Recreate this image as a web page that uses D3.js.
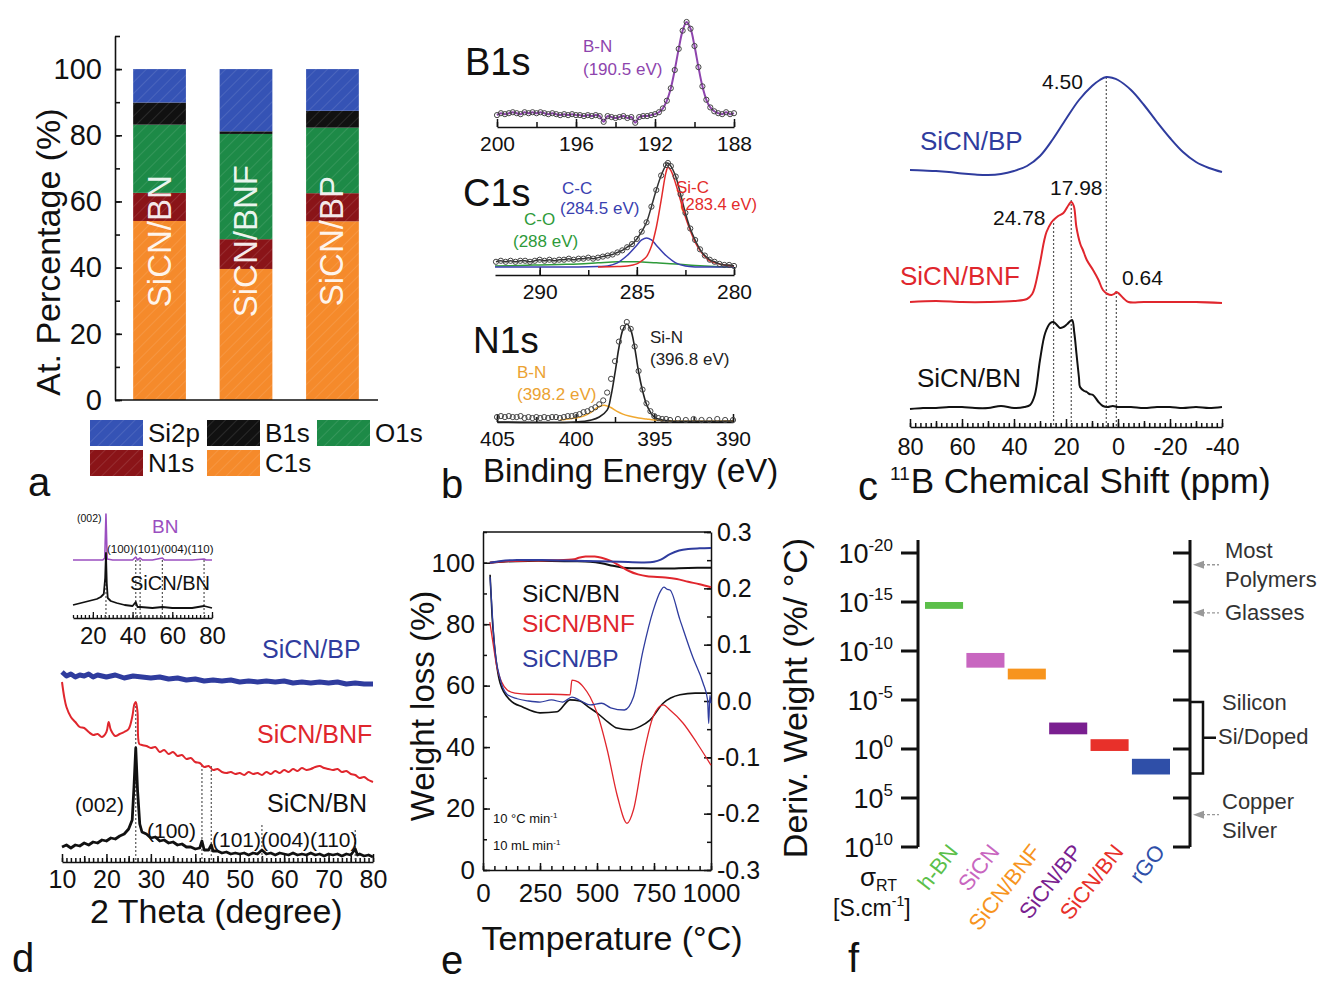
<!DOCTYPE html>
<html>
<head>
<meta charset="utf-8">
<script src="https://cdn.jsdelivr.net/npm/d3@7"></script>
<style>
  body { margin: 0; background: #fff; }
  svg { display: block; }
</style>
</head>
<body>
<svg id="fig" width="1324" height="983"></svg>
<script>
// ---------- data ----------
// (a) XPS atomic percentages, stacked bottom -> top
const xpsSamples = ['SiCN/BN', 'SiCN/BNF', 'SiCN/BP'];
const xpsElements = ['C1s', 'N1s', 'O1s', 'B1s', 'Si2p'];
const atC1s = [54.1, 39.6, 54.0];
const atN1s = [8.5, 9.0, 8.5];
const atO1s = [20.6, 31.8, 19.8];
const atB1s = [6.7, 0.8, 5.1];
const atSi2p = [10.1, 18.8, 12.6];
const legendOrder = ['Si2p', 'B1s', 'O1s', 'N1s', 'C1s'];

// (b) XPS high resolution spectra [eV, intensity]
const b1sData = [[200,3],[199.8,5],[199.6,4],[199.4,5],[199.2,6],[199,5],[198.8,4],[198.6,6],[198.4,5],[198.2,6],[198,5],[197.8,6],[197.6,5],[197.4,4],[197.2,5],[197,4],[196.8,3],[196.6,4],[196.4,3],[196.2,4],[196,3],[195.8,3],[195.6,2],[195.4,3],[195.2,2],[195,3],[194.8,2],[194.6,-4],[194.4,2],[194.2,1],[194,0],[193.8,1],[193.6,2],[193.4,0],[193.2,1],[193,-5],[192.8,1],[192.6,2],[192.4,2],[192.2,3],[192,4],[191.8,6],[191.6,10],[191.4,18],[191.2,31],[191,50],[190.8,72],[190.6,91],[190.4,100],[190.2,93],[190,75],[189.8,53],[189.6,33],[189.4,19],[189.2,11],[189,7],[188.8,5],[188.6,4],[188.4,6],[188.2,4],[188,5]];
const c1sData = [[292.25,5],[292,6],[291.75,5],[291.5,6],[291.25,5],[291,6],[290.75,6],[290.5,5],[290.25,6],[290,7],[289.75,6],[289.5,7],[289.25,6],[289,7],[288.75,7],[288.5,8],[288.25,7],[288,8],[287.75,8],[287.5,9],[287.25,8],[287,9],[286.75,10],[286.5,11],[286.25,12],[286,14],[285.75,16],[285.5,19],[285.25,22],[285,27],[284.75,34],[284.5,43],[284.25,58],[284,74],[283.75,88],[283.5,98],[283.4,100],[283.25,97],[283,87],[282.75,70],[282.5,52],[282.25,37],[282,26],[281.75,17],[281.5,11],[281.25,7],[281,5],[280.75,3],[280.5,2],[280.25,2],[280,1]];
const c1sSiC = [[287,0],[286,0.5],[285.5,1],[285,3],[284.75,6],[284.5,10],[284.25,20],[284,38],[283.75,64],[283.5,91],[283.4,96],[283.25,93],[283,80],[282.75,64],[282.5,48],[282.25,35],[282,24],[281.75,16],[281.5,10],[281.25,6],[281,4],[280.5,2],[280,1]];
const c1sCC = [[292.3,0],[290,0],[288,0],[287,0.5],[286.5,1],[286,4],[285.5,11],[285,21],[284.75,26],[284.5,28],[284.25,26],[284,21],[283.5,11],[283,4],[282.5,1],[282,0],[281,0],[280,0]];
const c1sCO = [[292.3,1],[291,1.5],[290,2],[289,2.5],[288,3],[287,4],[286,5],[285,5],[284,4],[283,3],[282,1.5],[281,0.5],[280,0]];
const n1sData = [[405,3],[404.75,4],[404.5,3],[404.25,4],[404,3],[403.75,3],[403.5,4],[403.25,2],[403,3],[402.75,2],[402.5,3],[402.25,2],[402,3],[401.75,2],[401.5,3],[401.25,3],[401,2],[400.75,3],[400.5,4],[400.25,4],[400,5],[399.75,6],[399.5,8],[399.25,9],[399,11],[398.75,13],[398.5,16],[398.25,20],[398,28],[397.75,42],[397.5,60],[397.25,80],[397,94],[396.75,100],[396.5,93],[396.25,75],[396,50],[395.75,31],[395.5,17],[395.25,9],[395,4],[394.75,2],[394.5,1],[394.25,1],[394,0],[393.5,1],[393,0],[392.5,1],[392,0],[391.5,0],[391,1],[390.5,0],[390,0]];
const n1sSiN = [[405,-2],[400,-2],[399,0],[398.5,3],[398,10],[397.75,25],[397.5,48],[397.25,74],[397,92],[396.75,98],[396.5,92],[396.25,74],[396,49],[395.75,30],[395.5,16],[395.25,8],[395,3],[394.5,0],[394,-1],[390,-1]];
const n1sBN = [[401,0],[400.5,1],[400,2],[399.5,4],[399,8],[398.6,13],[398.2,15],[397.8,13],[397.4,9],[397,6],[396.6,4],[396,2],[395.5,1],[395,0],[394,-1],[390,-1]];

// (c) 11B NMR [ppm, intensity above own baseline]
const nmrOffsets = [0, 106, 236];           // SiCN/BN, SiCN/BNF, SiCN/BP
const nmrBN = [[80,-1],[75,0],[70,0],[65,1],[60,1],[55,0],[50,0],[45,2],[40,0],[36,1],[33.8,3],[32,13],[30,48],[28,75],[26,85],[24.8,86],[23.5,83],[22.3,80],[21,81],[19.5,84],[17.7,88],[16.8,75],[16,55],[15,30],[14.6,21],[13,17],[12,16],[11,14],[9.6,13],[7.5,6],[5.8,2],[4,1],[2,2],[0,1],[-5,1],[-10,0],[-15,1],[-20,1],[-25,0],[-30,1],[-35,0],[-40,1]];
const nmrBNF = [[80,0],[70,1],[60,0],[50,0],[40,1],[35,3],[33,8],[32,15],[30,39],[28.5,60],[27.5,70],[25.5,80],[24.8,82],[23,86],[21,89],[19,97],[18,100],[17,96],[16,75],[14.5,58],[13.5,52],[12,42],[9.6,32],[7.5,22],[5.8,12],[4,8],[2.5,7],[1.5,8],[0.6,10],[-0.5,8],[-2,4],[-4,0],[-10,0],[-20,0],[-30,0],[-40,-1]];
const nmrBP = [[80,2],[75,1.5],[70,1],[65,0],[60,-1.5],[55,-2.5],[50,-3],[45,-2],[40,1],[35,6],[30,16],[25,33],[20,53],[15,72],[10,86],[7,92],[4.5,95],[2,94],[0,92],[-5,82],[-10,67],[-15,50],[-20,34],[-25,20],[-30,10],[-35,4],[-40,0]];
const nmrPeaks = [4.50, 17.98, 24.78, 0.64];

// (d) XRD [2theta, counts (stacked)]
const xrdBN = [[10,15],[11,17],[12,14],[13,17],[14,16],[15,19],[16,17],[17,20],[18,19],[19,22],[20,21],[21,24],[22,23],[23,26],[24,28],[25,33],[25.8,42],[26.2,75],[26.6,114],[27,72],[27.5,38],[28,30],[29,28],[30,24],[31,25],[32,21],[33,22],[34,19],[35,20],[36,17],[37,18],[38,15],[39,15],[40,13],[41,14],[41.5,21],[42,12],[43,12],[43.6,17],[44,11],[45,11],[46,9],[47,10],[48,8],[49,9],[50,8],[51,9],[52,7],[53,9],[54,8],[55,12],[56,8],[57,9],[58,7],[59,9],[60,8],[61,7],[62,9],[63,7],[64,8],[65,7],[66,9],[67,7],[68,8],[69,6],[70,8],[71,7],[72,8],[73,6],[74,8],[75,7],[76,13],[76.5,7],[77,8],[78,6],[79,7],[80,5]];
const xrdBNF = [[10,180],[10.5,165],[11,155],[12,145],[13,140],[14,135],[15,134],[16,130],[17,127],[18,128],[19,125],[20,130],[20.5,140],[21,132],[22,126],[23,128],[24,130],[25,133],[25.8,145],[26.3,158],[26.6,160],[27,150],[27.4,118],[28,117],[29,116],[30,114],[31,115],[32,110],[33,112],[34,108],[35,110],[36,106],[37,107],[38,103],[39,104],[40,100],[41,99],[42,95],[43,96],[44,92],[45,93],[46,90],[47,89],[48,90],[49,88],[50,89],[51,87],[52,90],[53,88],[54,89],[55,87],[56,90],[57,88],[58,91],[59,89],[60,92],[61,90],[62,93],[63,91],[64,94],[65,92],[66,93],[67,95],[68,96],[69,94],[70,93],[71,92],[72,93],[73,90],[74,91],[75,88],[76,87],[77,84],[78,85],[79,82],[80,80]];
const xrdBP = [[10,190],[11,186],[12,188],[13,185],[14,187],[15,186],[16,188],[17,185],[18,187],[19,186],[20,185],[22,187],[24,184],[26,186],[28,185],[30,184],[32,185],[34,183],[36,184],[38,182],[40,183],[42,181],[44,182],[46,181],[48,182],[50,180],[52,181],[54,180],[56,181],[58,180],[60,181],[62,179],[64,180],[66,179],[68,180],[70,179],[72,180],[74,178],[76,179],[78,178],[80,178]];
const insetBN = [[10,58],[20,58],[25,58],[26,60],[26.6,104],[27.2,59],[30,58],[40,58],[41.6,61],[42.5,58],[43.8,60],[45,58],[50,58],[55,60],[56,58],[60,58],[70,58],[76,59],[77,58],[80,58]];
const insetSiCNBN = [[10,13],[12,14],[14,15],[16,16],[18,17],[20,18],[22,19],[24,21],[25.5,24],[26.2,40],[26.6,65],[27,35],[27.5,20],[29,17],[32,15],[36,13],[40,12],[41.6,16],[42.5,11],[44,11],[50,10],[55,11],[60,10],[70,10],[76,12],[80,10]];
const bnReflections = [26.6, 41.6, 43.8, 55.0, 76.0];

// (e) TGA weight [degC, %] and DTG [degC, %/degC]
const tgaBN = [[30,100],[100,100.4],[200,100.6],[300,100.6],[400,100.5],[470,100.3],[520,99.8],[570,99.0],[615,98.4],[650,98.2],[700,98.2],[800,98.1],[900,98.3],[1000,98.4]];
const tgaBNF = [[30,100],[100,100.5],[200,100.7],[300,100.8],[400,101.1],[420,101.6],[450,102.0],[490,102.0],[520,101.6],[560,100.6],[600,99.0],[640,97.3],[680,96.2],[720,95.6],[800,95.2],[850,94.7],[900,93.8],[950,93.0],[1000,92.0]];
const tgaBP = [[30,100],[80,100.6],[150,100.9],[300,100.8],[450,100.6],[600,100.3],[700,100.1],[750,100.3],[780,101.0],[820,102.8],[860,104.0],[900,104.5],[950,104.7],[1000,104.8]];
const dtgBN = [[31,0.224],[40,0.15],[50,0.10],[75,0.032],[118,0.002],[176,-0.011],[250,-0.021],[325,-0.019],[382,0.002],[425,0.0],[460,-0.01],[500,-0.021],[550,-0.038],[588,-0.048],[645,-0.051],[690,-0.045],[732,-0.034],[790,-0.004],[864,0.011],[930,0.014],[1000,0.014]];
const dtgBNF = [[30,0.14],[45,0.1],[61,0.06],[105,0.02],[140,0.014],[200,0.012],[300,0.012],[382,0.011],[390,0.037],[417,0.034],[440,0.025],[470,0.007],[500,-0.021],[545,-0.087],[590,-0.17],[632,-0.217],[660,-0.193],[702,-0.1],[746,-0.028],[790,-0.007],[820,-0.016],[877,-0.039],[939,-0.075],[1000,-0.114]];
const dtgBP = [[31,0.22],[40,0.16],[50,0.1],[75,0.04],[105,0.012],[150,0.004],[200,0.0],[250,-0.002],[300,0.002],[350,-0.002],[390,0.007],[430,0.0],[470,-0.007],[520,-0.004],[560,-0.012],[620,-0.016],[660,0.007],[702,0.09],[746,0.16],[780,0.196],[793,0.202],[810,0.198],[820,0.197],[864,0.144],[920,0.078],[965,0.032],[985,0.002],[990,-0.04],[995,0.01],[1000,-0.004]];

// (f) conductivity ranges, exponent as printed on the axis
const condMaterials = ['h-BN', 'SiCN', 'SiCN/BNF', 'SiCN/BP', 'SiCN/BN', 'rGO'];
const condLow = [-15.0, -9.8, -8.2, -2.7, -1.0, 1.0];
const condHigh = [-14.3, -8.3, -7.1, -1.5, 0.2, 2.6];
const condTicks = [-20, -15, -10, -5, 0, 5, 10];
const refArrows = [-18.8, -13.9, 6.7];
const siBracket = [-4.8, 2.5];

// ---------- helpers ----------
const FONT = '"Liberation Sans", Arial, Helvetica, sans-serif';
const BLUE = '#2f3c9e', RED = '#e0262d', INK = '#111';
const svg = d3.select('#fig').attr('font-family', FONT);

function txt(g, x, y, s, size, fill = INK, anchor = 'start') {
  return g.append('text').attr('x', x).attr('y', y).attr('font-size', size)
    .attr('fill', fill).attr('text-anchor', anchor).text(s);
}

function axis(g, orient, scale, pos, majors, minors, o) {
  const make = (vals, len, fmt) => {
    const gen = orient === 'bottom' ? d3.axisBottom(scale) : orient === 'left' ? d3.axisLeft(scale) : d3.axisRight(scale);
    gen.tickValues(vals).tickSize(len).tickSizeOuter(0).tickPadding(o.pad || 4).tickFormat(fmt);
    const a = g.append('g')
      .attr('transform', orient === 'bottom' ? `translate(0,${pos})` : `translate(${pos},0)`)
      .call(gen);
    a.selectAll('path,line').attr('stroke', INK).attr('stroke-width', o.sw || 1.5);
    a.selectAll('text').attr('font-size', o.fs).attr('fill', INK).attr('font-family', FONT);
    return a;
  };
  if (minors) make(minors, o.minLen, () => '').select('.domain').remove();
  return make(majors, o.majLen, o.fmt || (d => String(d)));
}

function curve(g, data, x, y, color, width, off = 0, kind = d3.curveCatmullRom) {
  g.append('path').datum(data)
    .attr('fill', 'none').attr('stroke', color).attr('stroke-width', width)
    .attr('stroke-linejoin', 'round')
    .attr('d', d3.line().x(d => x(d[0])).y(d => y(d[1] + off)).curve(kind));
}

function dotted(g, x1, y1, x2, y2) {
  g.append('line').attr('x1', x1).attr('y1', y1).attr('x2', x2).attr('y2', y2)
    .attr('stroke', '#555').attr('stroke-width', 1.2).attr('stroke-dasharray', '2,2');
}

const defs = svg.append('defs');
defs.append('pattern').attr('id', 'hatch').attr('patternUnits', 'userSpaceOnUse')
  .attr('width', 8).attr('height', 8).attr('patternTransform', 'rotate(45)')
  .append('line').attr('x1', 0).attr('y1', 0).attr('x2', 0).attr('y2', 8)
  .attr('stroke', '#fff').attr('stroke-opacity', 0.16).attr('stroke-width', 1.3);

// ---------- (a) stacked XPS composition ----------
const elemColor = { Si2p: '#3553b5', B1s: '#111111', O1s: '#1d8a47', N1s: '#8a1418', C1s: '#f58a2b' };
const gA = svg.append('g');
const yA = d3.scaleLinear().domain([0, 110]).range([400, 36]);
const xA = d3.scaleBand().domain(xpsSamples).range([115, 377]).paddingInner(0.39).paddingOuter(0.21);
const rowsA = xpsSamples.map((s, i) => ({ sample: s, C1s: atC1s[i], N1s: atN1s[i], O1s: atO1s[i], B1s: atB1s[i], Si2p: atSi2p[i] }));
const stackA = d3.stack().keys(xpsElements)(rowsA);
stackA.forEach(layer => {
  ['fill', 'hatch'].forEach(kind => {
    gA.selectAll(null).data(layer).join('rect')
      .attr('x', d => xA(d.data.sample)).attr('width', xA.bandwidth())
      .attr('y', d => yA(d[1])).attr('height', d => yA(d[0]) - yA(d[1]))
      .attr('fill', kind === 'fill' ? elemColor[layer.key] : 'url(#hatch)');
  });
});
gA.selectAll(null).data(xpsSamples).join('text')
  .attr('transform', d => `translate(${xA(d) + xA.bandwidth() / 2 + 11},${yA(48)}) rotate(-90)`)
  .attr('text-anchor', 'middle').attr('font-size', 33).attr('fill', '#fff').attr('fill-opacity', 0.92)
  .text(d => d);
axis(gA, 'left', yA, 115, d3.range(0, 101, 20), d3.range(0, 111, 10),
  { majLen: -7, minLen: -5, pad: 13, fs: 29, sw: 1.6 });
gA.append('line').attr('x1', 115).attr('x2', 378).attr('y1', 400).attr('y2', 400).attr('stroke', INK).attr('stroke-width', 1.6);
gA.append('text').attr('transform', 'translate(60,252) rotate(-90)').attr('text-anchor', 'middle')
  .attr('font-size', 34).attr('fill', INK).text('At. Percentage (%)');
const legPos = { Si2p: [90, 420], B1s: [207, 420], O1s: [317, 420], N1s: [90, 450], C1s: [207, 450] };
legendOrder.forEach(k => {
  const [lx, ly] = legPos[k];
  gA.append('rect').attr('x', lx).attr('y', ly).attr('width', 53).attr('height', 26).attr('fill', elemColor[k]);
  gA.append('rect').attr('x', lx).attr('y', ly).attr('width', 53).attr('height', 26).attr('fill', 'url(#hatch)');
  txt(gA, lx + 58, ly + 22, k, 26);
});
txt(gA, 28, 496, 'a', 40);

// ---------- (b) XPS spectra ----------
const gB = svg.append('g');
const xpsPanels = [
  { dom: [200, 188], rng: [497, 734], axisY: 127, yr: [118, 22], majors: [200, 196, 192, 188], minors: d3.range(188, 201, 2),
    series: [{ d: b1sData, c: '#8e44ad', w: 2 }], points: b1sData },
  { dom: [292.3, 280], rng: [495, 734], axisY: 275, yr: [267, 163], majors: [290, 285, 280], minors: [290, 287.5, 285, 282.5, 280],
    series: [{ d: c1sCO, c: '#2e9a3a', w: 1.5 }, { d: c1sCC, c: '#3a3fb0', w: 1.5 }, { d: c1sSiC, c: '#e32b2b', w: 1.5 }, { d: c1sData, c: '#333', w: 1.5 }], points: c1sData },
  { dom: [405, 390], rng: [497, 733], axisY: 422, yr: [420, 322], majors: [405, 400, 395, 390], minors: [405, 402.5, 400, 397.5, 395, 392.5, 390],
    series: [{ d: n1sBN, c: '#f0a830', w: 1.5 }, { d: n1sSiN, c: '#222', w: 1.6 }], points: n1sData }
];
xpsPanels.forEach(p => {
  const x = d3.scaleLinear().domain(p.dom).range(p.rng);
  const y = d3.scaleLinear().domain([0, 100]).range(p.yr);
  axis(gB, 'bottom', x, p.axisY, p.majors, p.minors, { majLen: -8, minLen: -5, pad: 9, fs: 21 });
  p.series.forEach(s => curve(gB, s.d, x, y, s.c, s.w));
  gB.selectAll(null).data(p.points).join('circle')
    .attr('cx', d => x(d[0])).attr('cy', d => y(d[1])).attr('r', 2.6)
    .attr('fill', 'none').attr('stroke', '#444').attr('stroke-width', 1);
});
txt(gB, 465, 75, 'B1s', 38);
txt(gB, 583, 52, 'B-N', 17, '#8e44ad');
txt(gB, 583, 75, '(190.5 eV)', 17, '#8e44ad');
txt(gB, 463, 206, 'C1s', 38);
txt(gB, 562, 194, 'C-C', 17, '#3a3fb0');
txt(gB, 560, 214, '(284.5 eV)', 17, '#3a3fb0');
txt(gB, 524, 225, 'C-O', 17, '#2e9a3a');
txt(gB, 513, 247, '(288 eV)', 17, '#2e9a3a');
txt(gB, 676, 193, 'Si-C', 17, '#e32b2b');
txt(gB, 680, 210, '(283.4 eV)', 16.5, '#e32b2b');
txt(gB, 473, 353, 'N1s', 37);
txt(gB, 650, 343, 'Si-N', 17, '#222');
txt(gB, 650, 365, '(396.8 eV)', 17, '#222');
txt(gB, 517, 378, 'B-N', 17, '#eba232');
txt(gB, 517, 400, '(398.2 eV)', 17, '#eba232');
txt(gB, 483, 482, 'Binding Energy (eV)', 33);
txt(gB, 441, 498, 'b', 40);

// ---------- (c) 11B NMR ----------
const gC = svg.append('g');
const xC = d3.scaleLinear().domain([80, -40]).range([910, 1222]);
const yC = d3.scaleLinear().domain([0, 340]).range([408, 68]);
axis(gC, 'bottom', xC, 427, [80, 60, 40, 20, 0, -20, -40], d3.range(-40, 81, 2),
  { majLen: -8, minLen: -4, pad: 11, fs: 23.5 });
gC.append('g').attr('transform', 'translate(0,427)')
  .call(d3.axisBottom(xC).tickValues(d3.range(-30, 80, 20)).tickSize(-6).tickFormat(''))
  .call(a => { a.select('.domain').remove(); a.selectAll('line').attr('stroke', INK).attr('stroke-width', 1.5); });
const peakTops = [[4.50, 77], [17.98, 200], [24.78, 219], [0.64, 292]];
peakTops.forEach(([ppm, top]) => dotted(gC, xC(ppm), top, xC(ppm), 427));
curve(gC, nmrBN, xC, yC, '#111', 2, nmrOffsets[0]);
curve(gC, nmrBNF, xC, yC, RED, 2, nmrOffsets[1]);
curve(gC, nmrBP, xC, yC, BLUE, 2, nmrOffsets[2]);
txt(gC, 920, 150, 'SiCN/BP', 26, BLUE);
txt(gC, 900, 285, 'SiCN/BNF', 26, RED);
txt(gC, 917, 387, 'SiCN/BN', 26);
txt(gC, 1042, 89, nmrPeaks[0].toFixed(2), 21);
txt(gC, 1050, 195, nmrPeaks[1].toFixed(2), 21);
txt(gC, 993, 225, nmrPeaks[2].toFixed(2), 21);
txt(gC, 1122, 285, nmrPeaks[3].toFixed(2), 21);
const tC = gC.append('text').attr('x', 890).attr('y', 493).attr('font-size', 35).attr('fill', INK);
tC.append('tspan').attr('font-size', 19).attr('dy', -13).text('11');
tC.append('tspan').attr('dy', 13).attr('dx', 1).text('B Chemical Shift (ppm)');
txt(gC, 858, 500, 'c', 40);

// ---------- (d) XRD ----------
const gD = svg.append('g');
const xD = d3.scaleLinear().domain([10, 80]).range([62, 373]);
const yD = d3.scaleLinear().domain([0, 200]).range([862, 662]);
axis(gD, 'bottom', xD, 862, d3.range(10, 81, 10), d3.range(10, 81, 1),
  { majLen: -8, minLen: -4, pad: 8, fs: 25 });
gD.append('g').attr('transform', 'translate(0,862)')
  .call(d3.axisBottom(xD).tickValues(d3.range(15, 80, 10)).tickSize(-6).tickFormat(''))
  .call(a => { a.select('.domain').remove(); a.selectAll('line').attr('stroke', INK).attr('stroke-width', 1.5); });
dotted(gD, xD(26.6), yD(160), xD(26.6), 862);
dotted(gD, xD(41.5), yD(97), xD(41.5), 862);
dotted(gD, xD(43.6), yD(96), xD(43.6), 862);
dotted(gD, xD(55), yD(37), xD(55), 862);
dotted(gD, xD(76), yD(32), xD(76), 862);
curve(gD, xrdBP, xD, yD, BLUE, 5, 0, d3.curveLinear);
curve(gD, xrdBNF, xD, yD, RED, 2);
curve(gD, xrdBN, xD, yD, '#111', 2.8, 0, d3.curveLinear);
txt(gD, 262, 658, 'SiCN/BP', 25, BLUE);
txt(gD, 257, 743, 'SiCN/BNF', 25, RED);
txt(gD, 267, 812, 'SiCN/BN', 25);
txt(gD, 75, 812, '(002)', 21);
txt(gD, 147, 838, '(100)', 21);
txt(gD, 212, 847, '(101)(004)(110)', 21);
// inset
const xI = d3.scaleLinear().domain([10, 80]).range([73, 212]);
const yI = d3.scaleLinear().domain([0, 110]).range([618, 508]);
axis(gD, 'bottom', xI, 618, [20, 40, 60, 80], d3.range(10, 81, 2), { majLen: -6, minLen: -3, pad: 9, fs: 24, sw: 1.3 });
bnReflections.forEach(v => dotted(gD, xI(v), yI(58), xI(v), 618));
curve(gD, insetBN, xI, yI, '#9b4fc0', 1.6, 0, d3.curveLinear);
curve(gD, insetSiCNBN, xI, yI, '#111', 1.8, 0, d3.curveLinear);
txt(gD, 77, 522, '(002)', 10.5);
txt(gD, 152, 533, 'BN', 19, '#9b4fc0');
txt(gD, 107, 553, '(100)(101)(004)(110)', 11.5);
txt(gD, 130, 590, 'SiCN/BN', 20);
txt(gD, 90, 923, '2 Theta (degree)', 34);
txt(gD, 12, 972, 'd', 40);

// ---------- (e) TGA / DTG ----------
const gE = svg.append('g');
const xE = d3.scaleLinear().domain([0, 1000]).range([483, 711]);
const yE = d3.scaleLinear().domain([0, 110]).range([870, 532]);
const yE2 = d3.scaleLinear().domain([-0.3, 0.3]).range([870, 532]);
axis(gE, 'bottom', xE, 870, [0, 250, 500, 750, 1000], d3.range(0, 1001, 50), { majLen: -7, minLen: -4, pad: 14, fs: 26 });
axis(gE, 'left', yE, 483, d3.range(0, 101, 20), d3.range(0, 111, 10), { majLen: -7, minLen: -4, pad: 8, fs: 26 });
axis(gE, 'right', yE2, 711, [-0.3, -0.2, -0.1, 0, 0.1, 0.2, 0.3], d3.range(-0.3, 0.31, 0.05).map(v => +v.toFixed(2)),
  { majLen: -7, minLen: -4, pad: 6, fs: 25, fmt: d3.format('.1f') }).selectAll('text').text(d => d3.format('.1f')(d).replace('−', '-'));
gE.append('line').attr('x1', 483).attr('x2', 711).attr('y1', 532).attr('y2', 532).attr('stroke', INK).attr('stroke-width', 1.5);
curve(gE, tgaBN, xE, yE, '#111', 2);
curve(gE, tgaBNF, xE, yE, RED, 2);
curve(gE, tgaBP, xE, yE, BLUE, 2);
curve(gE, dtgBN, xE, yE2, '#111', 1.6, 0, d3.curveMonotoneX);
curve(gE, dtgBNF, xE, yE2, RED, 1.3, 0, d3.curveMonotoneX);
curve(gE, dtgBP, xE, yE2, BLUE, 1.3, 0, d3.curveMonotoneX);
txt(gE, 522, 602, 'SiCN/BN', 24.5);
txt(gE, 522, 632, 'SiCN/BNF', 24.5, RED);
txt(gE, 522, 667, 'SiCN/BP', 24.5, BLUE);
const r1 = txt(gE, 493, 823, '10 °C min', 13);
r1.append('tspan').attr('font-size', 8).attr('dy', -5).text('-1');
const r2 = txt(gE, 493, 850, '10 mL min', 13);
r2.append('tspan').attr('font-size', 8).attr('dy', -5).text('-1');
txt(gE, 612, 950, 'Temperature (°C)', 34, INK, 'middle');
gE.append('text').attr('transform', 'translate(434,706) rotate(-90)').attr('text-anchor', 'middle')
  .attr('font-size', 33).attr('fill', INK).text('Weight loss (%)');
gE.append('text').attr('transform', 'translate(807,698) rotate(-90)').attr('text-anchor', 'middle')
  .attr('font-size', 34).attr('fill', INK).text('Deriv. Weight (%/ °C)');
txt(gE, 441, 974, 'e', 40);

// ---------- (f) conductivity ----------
const gF = svg.append('g');
const condColor = ['#5cbf4a', '#c866c0', '#f7941d', '#7a1f90', '#e8302a', '#2f4fa8'];
const yF = d3.scaleLinear().domain([-20, 10]).range([553, 847]);
const xF = d3.scaleBand().domain(condMaterials).range([925, 1170]).paddingInner(0.08);
[918, 1190].forEach(ax => {
  gF.append('line').attr('x1', ax).attr('x2', ax).attr('y1', 540).attr('y2', yF(10)).attr('stroke', INK).attr('stroke-width', 3);
  gF.selectAll(null).data(condTicks).join('line')
    .attr('x1', ax - 17).attr('x2', ax).attr('y1', d => yF(d)).attr('y2', d => yF(d))
    .attr('stroke', INK).attr('stroke-width', 3);
});
condTicks.forEach(v => {
  const t = gF.append('text').attr('x', 893).attr('y', yF(v) + 10).attr('text-anchor', 'end')
    .attr('font-size', 27).attr('fill', INK).text('10');
  t.append('tspan').attr('font-size', 17).attr('dy', -12).text(String(v));
});
gF.selectAll(null).data(condMaterials).join('rect')
  .attr('x', d => xF(d)).attr('width', xF.bandwidth())
  .attr('y', (d, i) => yF(condLow[i])).attr('height', (d, i) => yF(condHigh[i]) - yF(condLow[i]))
  .attr('fill', (d, i) => condColor[i]);
gF.selectAll(null).data(condMaterials).join('text')
  .attr('transform', d => `translate(${xF(d) + xF.bandwidth() / 2 + 15},852) rotate(-52)`)
  .attr('text-anchor', 'end').attr('font-size', 22)
  .attr('fill', (d, i) => condColor[i]).text(d => d);
// bracket for silicon / doped Si
const [bTop, bBot] = siBracket.map(yF);
gF.append('path').attr('d', `M1190,${bTop}H1203V${bBot}H1190M1203,${(bTop + bBot) / 2}H1216`)
  .attr('fill', 'none').attr('stroke', INK).attr('stroke-width', 2.5);
refArrows.forEach(v => {
  gF.append('line').attr('x1', 1202).attr('x2', 1219).attr('y1', yF(v)).attr('y2', yF(v))
    .attr('stroke', '#999').attr('stroke-width', 1.3).attr('stroke-dasharray', '3,2');
  gF.append('path').attr('d', `M1193,${yF(v)}l11,-4v8z`).attr('fill', '#999');
});
txt(gF, 1225, 558, 'Most', 22, '#333');
txt(gF, 1225, 587, 'Polymers', 22, '#333');
txt(gF, 1225, 620, 'Glasses', 22, '#333');
txt(gF, 1222, 710, 'Silicon', 22, '#333');
txt(gF, 1218, 744, 'Si/Doped', 22, '#333');
txt(gF, 1222, 809, 'Copper', 22, '#333');
txt(gF, 1222, 838, 'Silver', 22, '#333');
const sg = txt(gF, 860, 886, 'σ', 26);
sg.append('tspan').attr('font-size', 16).attr('dy', 5).text('RT');
const un = txt(gF, 833, 916, '[S.cm', 23);
un.append('tspan').attr('font-size', 14).attr('dy', -10).text('-1');
un.append('tspan').attr('dy', 10).text(']');
txt(gF, 848, 972, 'f', 40);
</script>
</body>
</html>
